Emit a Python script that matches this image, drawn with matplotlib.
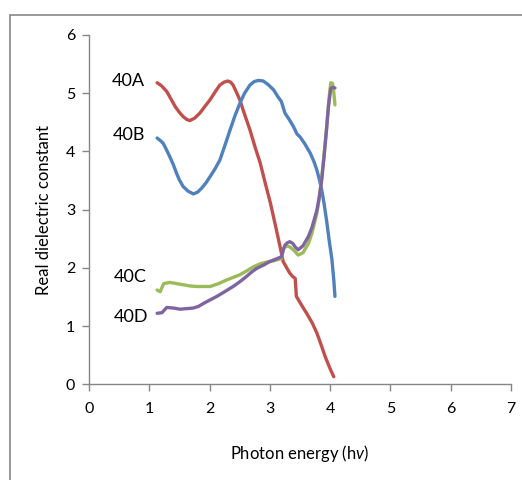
import matplotlib
matplotlib.use("Agg")
import matplotlib.pyplot as plt
from matplotlib.patches import Rectangle

# --- data ---
a_x = [1.13, 1.20, 1.29, 1.36, 1.43, 1.50, 1.56, 1.62, 1.67, 1.75, 1.84, 1.92, 2.01, 2.09, 2.17, 2.24, 2.30, 2.35, 2.39, 2.44, 2.50, 2.58, 2.67, 2.75, 2.84, 2.92, 3.01, 3.09, 3.17, 3.22, 3.28, 3.33, 3.38, 3.42, 3.44, 3.52, 3.61, 3.70, 3.78, 3.85, 3.92, 3.99, 4.06]
a_y = [5.18, 5.13, 5.03, 4.90, 4.77, 4.67, 4.60, 4.55, 4.53, 4.57, 4.66, 4.77, 4.89, 5.02, 5.14, 5.19, 5.21, 5.19, 5.14, 5.03, 4.89, 4.64, 4.37, 4.09, 3.80, 3.47, 3.11, 2.74, 2.36, 2.11, 2.00, 1.91, 1.85, 1.82, 1.51, 1.37, 1.22, 1.06, 0.88, 0.68, 0.47, 0.29, 0.13]

b_x = [1.13, 1.18, 1.23, 1.28, 1.34, 1.40, 1.45, 1.50, 1.56, 1.64, 1.73, 1.80, 1.87, 1.94, 2.01, 2.09, 2.17, 2.25, 2.34, 2.42, 2.50, 2.58, 2.67, 2.74, 2.81, 2.89, 2.97, 3.06, 3.14, 3.19, 3.25, 3.32, 3.39, 3.45, 3.50, 3.58, 3.67, 3.73, 3.78, 3.82, 3.86, 3.90, 3.94, 3.98, 4.03, 4.06, 4.08]
b_y = [4.23, 4.19, 4.14, 4.04, 3.91, 3.77, 3.63, 3.51, 3.40, 3.32, 3.27, 3.30, 3.37, 3.46, 3.57, 3.70, 3.85, 4.09, 4.37, 4.61, 4.82, 5.00, 5.14, 5.20, 5.22, 5.21, 5.15, 5.06, 4.93, 4.86, 4.66, 4.55, 4.43, 4.30, 4.25, 4.13, 3.97, 3.83, 3.68, 3.52, 3.34, 3.10, 2.82, 2.50, 2.14, 1.80, 1.51]

c_x = [1.13, 1.18, 1.24, 1.34, 1.45, 1.56, 1.67, 1.79, 1.90, 2.01, 2.15, 2.28, 2.40, 2.50, 2.62, 2.73, 2.84, 2.95, 3.06, 3.19, 3.23, 3.28, 3.33, 3.40, 3.47, 3.55, 3.64, 3.70, 3.78, 3.82, 3.86, 3.90, 3.94, 3.98, 4.01, 4.04, 4.06, 4.08]
c_y = [1.62, 1.59, 1.73, 1.75, 1.73, 1.71, 1.69, 1.68, 1.68, 1.68, 1.73, 1.79, 1.84, 1.88, 1.95, 2.02, 2.07, 2.10, 2.12, 2.16, 2.34, 2.38, 2.36, 2.30, 2.22, 2.26, 2.42, 2.60, 2.94, 3.20, 3.55, 3.95, 4.40, 4.90, 5.18, 5.17, 5.02, 4.80]

d_x = [1.13, 1.21, 1.29, 1.40, 1.51, 1.62, 1.73, 1.82, 1.90, 2.01, 2.12, 2.25, 2.39, 2.50, 2.61, 2.70, 2.78, 2.90, 3.00, 3.10, 3.19, 3.22, 3.25, 3.29, 3.33, 3.38, 3.42, 3.47, 3.55, 3.64, 3.70, 3.78, 3.82, 3.86, 3.90, 3.94, 3.97, 4.01, 4.04, 4.08]
d_y = [1.22, 1.23, 1.32, 1.31, 1.29, 1.30, 1.31, 1.34, 1.39, 1.45, 1.51, 1.59, 1.68, 1.76, 1.85, 1.93, 1.99, 2.05, 2.11, 2.15, 2.19, 2.30, 2.39, 2.43, 2.45, 2.42, 2.36, 2.31, 2.38, 2.54, 2.70, 2.99, 3.22, 3.51, 3.92, 4.37, 4.75, 5.08, 5.10, 5.09]

series = [
    ("40A", a_x, a_y, "#C0504D", 0.65, 5.21),
    ("40B", b_x, b_y, "#4F81BD", 0.66, 4.28),
    ("40C", c_x, c_y, "#9BBB59", 0.69, 1.84),
    ("40D", d_x, d_y, "#8064A2", 0.69, 1.16),
]

plt.rcParams['font.family'] = ['Lato', 'DejaVu Sans']
plt.rcParams['mathtext.fontset'] = 'custom'
plt.rcParams['mathtext.it'] = 'Lato:italic'
plt.rcParams['mathtext.rm'] = 'Lato'

fig = plt.figure(figsize=(5.22, 4.80), dpi=100)
ax = fig.add_axes([89 / 522, 1 - 384.3 / 480, (511 - 89) / 522, (384.3 - 35) / 480])

for name, xs, ys, col, lx, ly in series:
    ax.plot(xs, ys, color=col, lw=2.4, solid_capstyle='round', solid_joinstyle='round')
    ax.text(lx, ly, name, fontsize=13, ha='center', va='center', color='black')

ax.set_xlim(0, 7)
ax.set_ylim(0, 6)
ax.set_xticks(range(0, 8))
ax.set_yticks(range(0, 7))
for side in ['top', 'right']:
    ax.spines[side].set_visible(False)
for side in ['left', 'bottom']:
    ax.spines[side].set_color('#868686')
    ax.spines[side].set_linewidth(1.0)
ax.tick_params(colors='#868686', labelcolor='black', labelsize=11.5, length=5, width=1.0, direction='out')
ax.tick_params(axis='x', pad=8)
ax.tick_params(axis='y', pad=5)

ax.set_ylabel('Real dielectric constant', fontsize=12, labelpad=10)
ax.set_xlabel('Photon energy (h$\\mathit{v}$)', fontsize=12, labelpad=19)

# outer chart frame (cut off by the image edge on right and bottom)
fig.patches.append(Rectangle((9.5 / 522, -0.1), 1.2, 1.1 - 14.5 / 480,
                             transform=fig.transFigure, fill=False,
                             edgecolor='#868686', lw=1.2))

fig.savefig('out.png', dpi=100)
